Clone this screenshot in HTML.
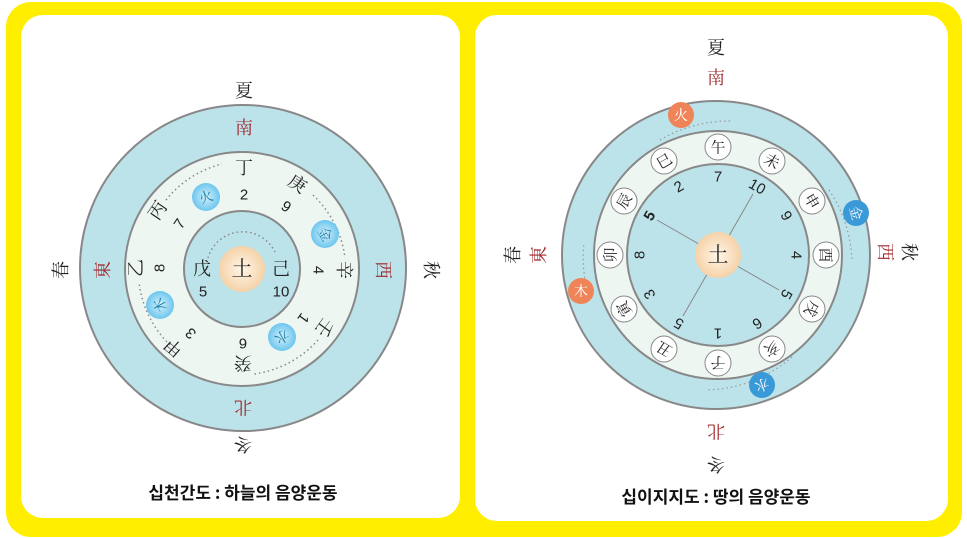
<!DOCTYPE html>
<html><head><meta charset="utf-8"><style>
body{margin:0;background:#fff;}
svg{display:block;font-family:"Liberation Sans","Noto Serif CJK SC","Noto Sans CJK KR",sans-serif;}
.c{font-family:"Noto Serif CJK SC","Noto Sans CJK SC",serif;font-size:18px;fill:#222;text-anchor:middle;dominant-baseline:central;}
.r{fill:#a0282d;}
.n{font-family:"Liberation Sans",sans-serif;font-size:15px;fill:#222;text-anchor:middle;dominant-baseline:central;}
.t{font-family:"Noto Sans CJK KR",sans-serif;font-weight:bold;font-size:17px;fill:#111;text-anchor:middle;}
.w{font-family:"Noto Serif CJK SC",serif;font-size:14px;text-anchor:middle;dominant-baseline:central;}
</style></head><body>
<svg width="967" height="538" viewBox="0 0 967 538">
<rect x="6" y="2" width="956" height="535" rx="25" fill="#ffee00"/>
<rect x="21" y="15" width="439" height="503" rx="22" fill="#fff"/>
<rect x="475" y="15" width="473" height="506" rx="22" fill="#fff"/>

<!-- LEFT -->
<circle cx="243" cy="268" r="163" fill="#bde3ea" stroke="#888" stroke-width="2"/>
<circle cx="242" cy="269" r="117" fill="#eef6f2" stroke="#888" stroke-width="2"/>
<circle cx="242" cy="269" r="58" fill="#bde3ea" stroke="#888" stroke-width="2"/>
<defs><radialGradient id="pe"><stop offset="0" stop-color="#fff6e8"/><stop offset="1" stop-color="#f5d2a8"/></radialGradient>
<radialGradient id="bl"><stop offset="0" stop-color="#d6f0fb"/><stop offset="1" stop-color="#6cc6ee"/></radialGradient></defs>
<g fill="none" stroke="#888" stroke-width="1.5" stroke-dasharray="1.5 3">
<path d="M166,200 A104 104 0 0 1 222,164"/>
<path d="M313,195 A104 104 0 0 1 345,258"/>
<path d="M318,340 A104 104 0 0 1 254,374"/>
<path d="M170,345 A104 104 0 0 1 139,282"/>
<path d="M208,258 A36 36 0 0 1 275,252"/>
</g>
<circle cx="242" cy="269" r="23" fill="url(#pe)"/>
<text class="c" x="242" y="268" style="font-size:21px">土</text>
<text class="c" x="202" y="268">戊</text><text class="n" x="203" y="292">5</text>
<text class="c" x="281" y="268">己</text><text class="n" x="281" y="292">10</text>
<g>
<text class="c" transform="translate(244,167)">丁</text><text class="n" transform="translate(244,195)">2</text>
<text class="c" transform="translate(298,183) rotate(33)">庚</text><text class="n" transform="translate(286,207) rotate(33)">9</text>
<text class="c" transform="translate(345,270) rotate(90)">辛</text><text class="n" transform="translate(318,270) rotate(90)">4</text>
<text class="c" transform="translate(325,328) rotate(126)">壬</text><text class="n" transform="translate(303,318) rotate(126)">1</text>
<text class="c" transform="translate(243,364) rotate(180)">癸</text><text class="n" transform="translate(243,343) rotate(180)">6</text>
<text class="c" transform="translate(173,348) rotate(221)">甲</text><text class="n" transform="translate(191,333) rotate(221)">3</text>
<text class="c" transform="translate(135,268) rotate(270)">乙</text><text class="n" transform="translate(160,268) rotate(270)">8</text>
<text class="c" transform="translate(157,210) rotate(-56)">丙</text><text class="n" transform="translate(180,224) rotate(-56)">7</text>
</g>
<circle cx="206" cy="197" r="14" fill="url(#bl)"/><text class="w" fill="#1a7fa8" transform="translate(206,197) rotate(-20)">火</text>
<circle cx="325" cy="234" r="14" fill="url(#bl)"/><text class="w" fill="#1a7fa8" transform="translate(325,234) rotate(60)">金</text>
<circle cx="282" cy="337" r="14" fill="url(#bl)"/><text class="w" fill="#1a7fa8" transform="translate(282,337) rotate(150)">水</text>
<circle cx="160" cy="305" r="14" fill="url(#bl)"/><text class="w" fill="#1a7fa8" transform="translate(160,305) rotate(240)">木</text>
<text class="c" x="244" y="90">夏</text>
<text class="c r" x="244" y="127">南</text>
<text class="c r" transform="translate(384,270) rotate(90)">西</text>
<text class="c" transform="translate(432,270) rotate(90)">秋</text>
<text class="c r" transform="translate(102,270) rotate(-90)">東</text>
<text class="c" transform="translate(60,270) rotate(-90)">春</text>
<text class="c r" transform="translate(243,408) rotate(180)">北</text>
<text class="c" transform="translate(243,445) rotate(180)">冬</text>
<text class="t" x="243" y="499">십천간도 : 하늘의 음양운동</text>

<!-- RIGHT -->
<circle cx="716" cy="255" r="154" fill="#bde3ea" stroke="#888" stroke-width="2"/>
<circle cx="718" cy="255" r="124" fill="#eef6f2" stroke="#888" stroke-width="2"/>
<circle cx="718" cy="255" r="91" fill="#bde3ea" stroke="#888" stroke-width="2"/>
<g stroke="#888" stroke-width="1">
<line x1="657" y1="220" x2="779" y2="290"/><line x1="753" y1="194" x2="683" y2="316"/>
</g>
<circle cx="718" cy="255" r="23" fill="url(#pe)"/>
<text class="c" x="718" y="254" style="font-size:21px">土</text>
<g fill="none" stroke="#999" stroke-width="1.2" stroke-dasharray="1.5 3">
<path d="M660,140 A135 135 0 0 1 730,121"/>
<path d="M829,190 A135 135 0 0 1 852,262"/>
<path d="M590,300 A135 135 0 0 1 584,243"/>
<path d="M792,357 A135 135 0 0 1 706,390"/>
</g>
<g fill="#fff" stroke="#888" stroke-width="1">
<circle cx="718" cy="147" r="13"/><circle cx="772" cy="161" r="13"/><circle cx="812" cy="201" r="13"/><circle cx="826" cy="255" r="13"/>
<circle cx="812" cy="309" r="13"/><circle cx="772" cy="349" r="13"/><circle cx="718" cy="363" r="13"/><circle cx="664" cy="349" r="13"/>
<circle cx="624" cy="309" r="13"/><circle cx="610" cy="255" r="13"/><circle cx="624" cy="201" r="13"/><circle cx="664" cy="161" r="13"/>
</g>
<g>
<text class="c" style="font-size:15px" transform="translate(718,147)">午</text>
<text class="c" style="font-size:15px" transform="translate(772,161) rotate(30)">未</text>
<text class="c" style="font-size:15px" transform="translate(812,201) rotate(60)">申</text>
<text class="c" style="font-size:15px" transform="translate(826,255) rotate(90)">酉</text>
<text class="c" style="font-size:15px" transform="translate(812,309) rotate(120)">戌</text>
<text class="c" style="font-size:15px" transform="translate(772,349) rotate(150)">亥</text>
<text class="c" style="font-size:15px" transform="translate(718,363) rotate(180)">子</text>
<text class="c" style="font-size:15px" transform="translate(664,349) rotate(210)">丑</text>
<text class="c" style="font-size:15px" transform="translate(624,309) rotate(240)">寅</text>
<text class="c" style="font-size:15px" transform="translate(610,255) rotate(270)">卯</text>
<text class="c" style="font-size:15px" transform="translate(624,201) rotate(300)">辰</text>
<text class="c" style="font-size:15px" transform="translate(664,161) rotate(330)">巳</text>
</g>
<text class="n" transform="translate(718,177)">7</text>
<text class="n" transform="translate(757,187) rotate(30)">10</text>
<text class="n" transform="translate(786,216) rotate(60)">9</text>
<text class="n" transform="translate(796,255) rotate(90)">4</text>
<text class="n" transform="translate(786,294) rotate(120)">5</text>
<text class="n" transform="translate(757,323) rotate(150)">6</text>
<text class="n" transform="translate(718,333) rotate(180)">1</text>
<text class="n" transform="translate(679,323) rotate(210)">5</text>
<text class="n" transform="translate(650,294) rotate(240)">3</text>
<text class="n" transform="translate(640,255) rotate(270)">8</text>
<text class="n" style="font-weight:bold" transform="translate(650,216) rotate(300)">5</text>
<text class="n" transform="translate(679,187) rotate(330)">2</text>
<circle cx="681" cy="115" r="13" fill="#ee8458"/><text class="w" fill="#fff" x="681" y="115">火</text>
<circle cx="856" cy="213" r="13" fill="#3a9ad8"/><text class="w" fill="#fff" transform="translate(856,213) rotate(75)">金</text>
<circle cx="581" cy="291" r="13" fill="#ee8458"/><text class="w" fill="#fff" x="581" y="291">木</text>
<circle cx="762" cy="385" r="13" fill="#3a9ad8"/><text class="w" fill="#fff" transform="translate(762,385) rotate(160)">水</text>
<text class="c" x="716" y="47">夏</text>
<text class="c r" x="716" y="77">南</text>
<text class="c r" transform="translate(886,252) rotate(90)">西</text>
<text class="c" transform="translate(910,252) rotate(90)">秋</text>
<text class="c r" transform="translate(538,255) rotate(-90)">東</text>
<text class="c" transform="translate(512,255) rotate(-90)">春</text>
<text class="c r" transform="translate(716,432) rotate(180)">北</text>
<text class="c" transform="translate(716,465) rotate(180)">冬</text>
<text class="t" x="716" y="503">십이지지도 : 땅의 음양운동</text>
</svg>
</body></html>
